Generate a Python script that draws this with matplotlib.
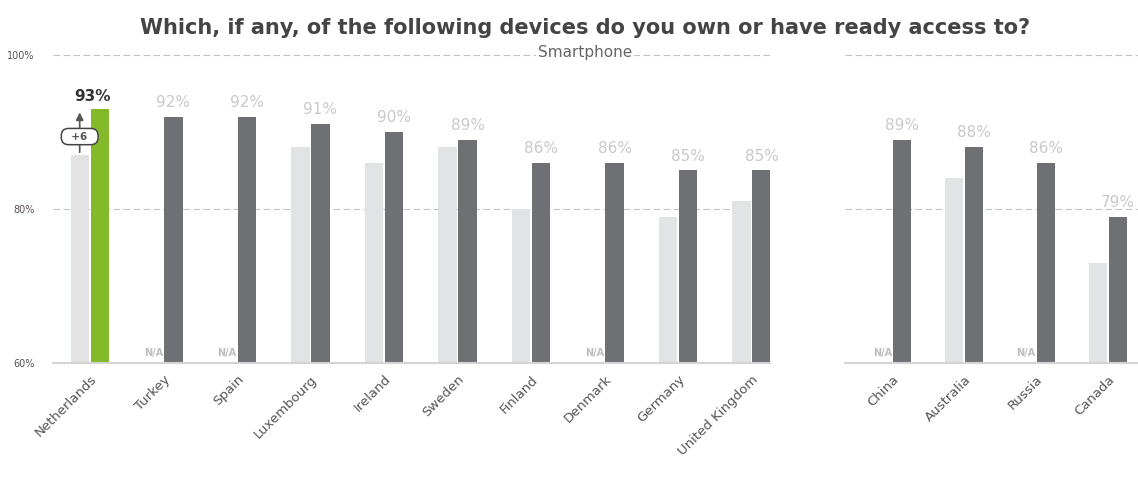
import matplotlib.pyplot as plt

plt.rcParams['font.family'] = ['DejaVu Sans']

# 欧洲市场
eu_countries = ['Netherlands', 'Turkey', 'Spain', 'Luxembourg', 'Ireland',
                'Sweden', 'Finland', 'Denmark', 'Germany', 'United Kingdom']
eu_prev = [87, None, None, 88, 86, 88, 80, None, 79, 81]
eu_curr = [93, 92, 92, 91, 90, 89, 86, 86, 85, 85]

# 其他市场
other_countries = ['China', 'Australia', 'Russia', 'Canada']
other_prev = [None, 84, None, 73]
other_curr = [89, 88, 86, 79]

c_prev = '#e2e3e5'
c_curr = '#6e7073'
c_green = '#84b92a'
c_label = '#c9c9c9'
w = 0.25
off = 0.137

fig = plt.figure(figsize=(11.38, 4.90), dpi=100)
ax1 = fig.add_axes([53 / 1138, 0.259, (770 - 53) / 1138, 0.629])
ax2 = fig.add_axes([845 / 1138, 0.259, (1138 - 845) / 1138, 0.629])


def draw_panel(ax, names, prev, curr, highlight=None):
    for i, (p, c) in enumerate(zip(prev, curr)):
        if p is None:
            ax.text(i - off, 60.6, 'N/A', ha='center', va='bottom',
                    fontsize=7, color='#bdbdbd', fontweight='bold')
        else:
            ax.bar(i - off, p - 60, w, bottom=60, color=c_prev, zorder=2)
        col = c_green if i == highlight else c_curr
        ax.bar(i + off, c - 60, w, bottom=60, color=col, zorder=2)
        if i == highlight:
            ax.text(i + off - 0.1, c + 0.6, f'{c}%', ha='center', va='bottom',
                    fontsize=11, color='#333333', fontweight='bold')
        else:
            ax.text(i + off, c + 0.9, f'{c}%', ha='center', va='bottom',
                    fontsize=11, color=c_label)
    ax.set_ylim(60, 100)
    ax.set_xticks(range(len(names)))
    ax.set_xticklabels(names, rotation=45, ha='right', rotation_mode='anchor',
                       fontsize=9.5, color='#555555')
    ax.tick_params(axis='x', length=0, pad=7)
    ax.tick_params(axis='y', length=0)
    for s in ['top', 'right', 'left']:
        ax.spines[s].set_visible(False)
    ax.spines['bottom'].set_color('#d4d4d4')
    ax.spines['bottom'].set_linewidth(1.5)
    ax.axhline(80, color='#c4c4c4', lw=0.8, ls=(0, (6, 3)), zorder=1)
    ax.axhline(100, color='#c4c4c4', lw=0.8, ls=(0, (6, 3)), zorder=1,
               clip_on=False)


draw_panel(ax1, eu_countries, eu_prev, eu_curr, highlight=0)
draw_panel(ax2, other_countries, other_prev, other_curr)

ax1.set_xlim(-0.5, 9.25)
ax2.set_xlim(-0.66, 3.42)

ax1.set_yticks([60, 80, 100])
ax1.set_yticklabels(['60%', '80%', '100%'], fontsize=7, color='#5a5050')
ax1.tick_params(axis='y', pad=13)
ax2.set_yticks([])

# 荷兰同比变化箭头
x0 = 0 - off
ax1.annotate('', xy=(x0, 92.9), xytext=(x0, eu_prev[0]),
             arrowprops=dict(arrowstyle='-|>', color='#555555', lw=1.2,
                             mutation_scale=11), zorder=4)
ax1.text(x0, 89.4, f'  +{eu_curr[0] - eu_prev[0]}  ', ha='center', va='center',
         fontsize=7.5, color='#555555', fontweight='bold', zorder=5,
         bbox=dict(boxstyle='round,pad=0.3,rounding_size=0.7', fc='white',
                   ec='#444444', lw=1.1))

fig.text(585 / 1138, 1 - 28 / 490,
         'Which, if any, of the following devices do you own or have ready access to?',
         ha='center', va='center', fontsize=15, fontweight='bold', color='#444444')
fig.text(585 / 1138, 1 - 53 / 490, 'Smartphone', ha='center', va='center',
         fontsize=11, color='#666666',
         bbox=dict(boxstyle='square,pad=0.1', fc='white', ec='none'), zorder=10)

plt.savefig('out.png', dpi=100)
